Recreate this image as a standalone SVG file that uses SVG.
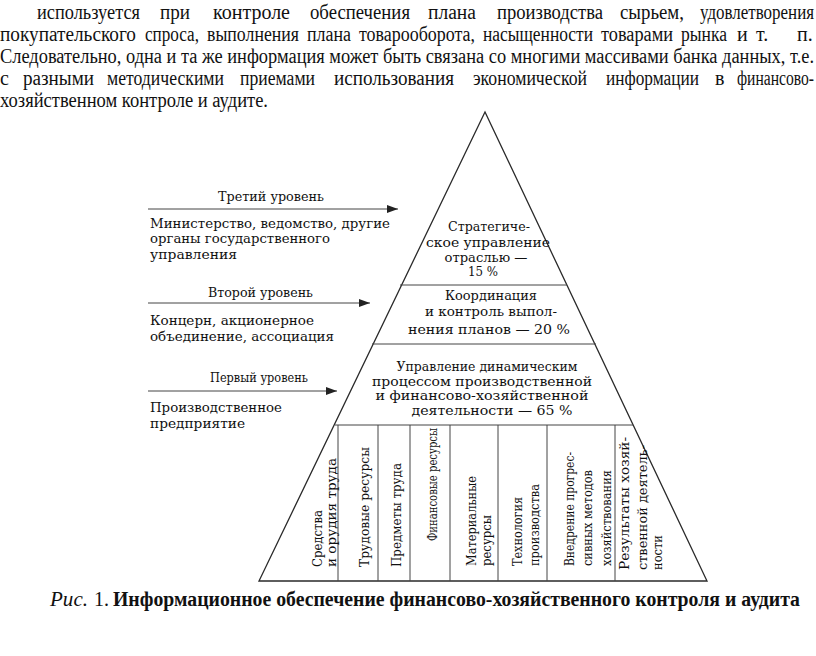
<svg xmlns="http://www.w3.org/2000/svg" width="816" height="656" viewBox="0 0 816 656">
<defs>
<style>
.p{font-family:"Liberation Serif","Times New Roman",serif;font-size:20px;fill:#111}
.t{font-family:"DejaVu Serif",serif;font-size:13px;fill:#111}
.c{text-anchor:middle}
.ln{stroke:#2a2a2a;stroke-width:1.3;fill:none}
.dv{stroke:#444;stroke-width:1;fill:none}
</style>
<marker id="ah" markerUnits="userSpaceOnUse" markerWidth="12" markerHeight="8" refX="11" refY="4" orient="auto">
<path d="M0,0 L11,4 L0,8 z" fill="#222"/>
</marker>
</defs>
<rect width="816" height="656" fill="#fff"/>

<g id="paragraph">
<text class="p" x="37" y="19" textLength="103" lengthAdjust="spacingAndGlyphs">используется</text>
<text class="p" x="160" y="19" textLength="30" lengthAdjust="spacingAndGlyphs">при</text>
<text class="p" x="213" y="19" textLength="77" lengthAdjust="spacingAndGlyphs">контроле</text>
<text class="p" x="310" y="19" textLength="100" lengthAdjust="spacingAndGlyphs">обеспечения</text>
<text class="p" x="428" y="19" textLength="48" lengthAdjust="spacingAndGlyphs">плана</text>
<text class="p" x="497" y="19" textLength="106" lengthAdjust="spacingAndGlyphs">производства</text>
<text class="p" x="620" y="19" textLength="64" lengthAdjust="spacingAndGlyphs">сырьем,</text>
<text class="p" x="700" y="19" textLength="114" lengthAdjust="spacingAndGlyphs">удовлетворения</text>

<text class="p" x="0" y="41" textLength="136" lengthAdjust="spacingAndGlyphs">покупательского</text>
<text class="p" x="145" y="41" textLength="54" lengthAdjust="spacingAndGlyphs">спроса,</text>
<text class="p" x="207" y="41" textLength="92" lengthAdjust="spacingAndGlyphs">выполнения</text>
<text class="p" x="307" y="41" textLength="44" lengthAdjust="spacingAndGlyphs">плана</text>
<text class="p" x="359" y="41" textLength="116" lengthAdjust="spacingAndGlyphs">товарооборота,</text>
<text class="p" x="483" y="41" textLength="110" lengthAdjust="spacingAndGlyphs">насыщенности</text>
<text class="p" x="601" y="41" textLength="72" lengthAdjust="spacingAndGlyphs">товарами</text>
<text class="p" x="681" y="41" textLength="46" lengthAdjust="spacingAndGlyphs">рынка</text>
<text class="p" x="737" y="41">и</text>
<text class="p" x="756" y="41">т.</text>
<text class="p" x="797" y="41">п.</text>

<text class="p" x="0" y="63" textLength="814" lengthAdjust="spacingAndGlyphs">Следовательно, одна и та же информация может быть связана со многими массивами банка данных, т.е.</text>

<text class="p" x="0" y="85">с</text>
<text class="p" x="23" y="85" textLength="71" lengthAdjust="spacingAndGlyphs">разными</text>
<text class="p" x="107" y="85" textLength="117" lengthAdjust="spacingAndGlyphs">методическими</text>
<text class="p" x="240" y="85" textLength="75" lengthAdjust="spacingAndGlyphs">приемами</text>
<text class="p" x="334" y="85" textLength="120" lengthAdjust="spacingAndGlyphs">использования</text>
<text class="p" x="473" y="85" textLength="114" lengthAdjust="spacingAndGlyphs">экономической</text>
<text class="p" x="606" y="85" textLength="93" lengthAdjust="spacingAndGlyphs">информации</text>
<text class="p" x="715" y="85">в</text>
<text class="p" x="737" y="85" textLength="77" lengthAdjust="spacingAndGlyphs">финансово-</text>

<text class="p" x="0" y="107" textLength="268" lengthAdjust="spacingAndGlyphs">хозяйственном контроле и аудите.</text>
</g>

<g id="pyramid">
<polygon class="ln" points="485,112 259,581 707,581"/>
<line class="dv" x1="400" y1="285" x2="567" y2="285"/>
<line class="dv" x1="372" y1="344" x2="596" y2="344"/>
<line class="dv" x1="335" y1="425" x2="633" y2="425"/>
</g>

<g id="level-strategic">
<text class="t c" x="489" y="231" textLength="82" lengthAdjust="spacingAndGlyphs">Стратегиче-</text>
<text class="t c" x="488" y="247" textLength="124" lengthAdjust="spacingAndGlyphs">ское управление</text>
<text class="t c" x="486" y="262" textLength="83" lengthAdjust="spacingAndGlyphs">отраслью —</text>
<text class="t c" x="483" y="276" textLength="30" lengthAdjust="spacingAndGlyphs">15 %</text>
</g>

<g id="level-coordination">
<text class="t c" x="491" y="300" textLength="92" lengthAdjust="spacingAndGlyphs">Координация</text>
<text class="t c" x="491" y="316" textLength="132" lengthAdjust="spacingAndGlyphs">и контроль выпол-</text>
<text class="t c" x="489" y="334" textLength="162" lengthAdjust="spacingAndGlyphs">нения планов — 20 %</text>
</g>

<g id="level-operational">
<text class="t c" x="487" y="371" textLength="181" lengthAdjust="spacingAndGlyphs">Управление динамическим</text>
<text class="t c" x="482" y="386" textLength="220" lengthAdjust="spacingAndGlyphs">процессом производственной</text>
<text class="t c" x="482" y="400" textLength="213" lengthAdjust="spacingAndGlyphs">и финансово-хозяйственной</text>
<text class="t c" x="492" y="415" textLength="161" lengthAdjust="spacingAndGlyphs">деятельности — 65 %</text>
</g>

<g id="resources">
<g class="dv">
<line x1="338" y1="425" x2="338" y2="581"/>
<line x1="378" y1="425" x2="378" y2="581"/>
<line x1="410" y1="425" x2="410" y2="581"/>
<line x1="450" y1="425" x2="450" y2="581"/>
<line x1="498" y1="425" x2="498" y2="581"/>
<line x1="547" y1="425" x2="547" y2="581"/>
<line x1="615" y1="425" x2="615" y2="581"/>
</g>
<g id="col-1"><text class="t" transform="translate(322,567) rotate(-90)" textLength="57" lengthAdjust="spacingAndGlyphs">Средства</text><text class="t" transform="translate(335.5,567) rotate(-90)" textLength="109" lengthAdjust="spacingAndGlyphs">и орудия труда</text></g>
<g id="col-2"><text class="t" transform="translate(369,567) rotate(-90)" textLength="120" lengthAdjust="spacingAndGlyphs">Трудовые ресурсы</text></g>
<g id="col-3"><text class="t" transform="translate(401,567) rotate(-90)" textLength="104" lengthAdjust="spacingAndGlyphs">Предметы труда</text></g>
<g id="col-4"><text class="t" transform="translate(437,541) rotate(-90)" textLength="113" lengthAdjust="spacingAndGlyphs">Финансовые ресурсы</text></g>
<g id="col-5"><text class="t" transform="translate(476,566) rotate(-90)" textLength="90" lengthAdjust="spacingAndGlyphs">Материальные</text><text class="t" transform="translate(491,566) rotate(-90)" textLength="51" lengthAdjust="spacingAndGlyphs">ресурсы</text></g>
<g id="col-6"><text class="t" transform="translate(522,566) rotate(-90)" textLength="69" lengthAdjust="spacingAndGlyphs">Технология</text><text class="t" transform="translate(539,566) rotate(-90)" textLength="82" lengthAdjust="spacingAndGlyphs">производства</text></g>
<g id="col-7"><text class="t" transform="translate(574,566) rotate(-90)" textLength="114" lengthAdjust="spacingAndGlyphs">Внедрение прогрес-</text><text class="t" transform="translate(592,566) rotate(-90)" textLength="96" lengthAdjust="spacingAndGlyphs">сивных методов</text><text class="t" transform="translate(611,566) rotate(-90)" textLength="96" lengthAdjust="spacingAndGlyphs">хозяйствования</text></g>
<g id="col-8"><text class="t" transform="translate(629,570) rotate(-90)" textLength="133" lengthAdjust="spacingAndGlyphs">Результаты хозяй-</text><text class="t" transform="translate(647,570) rotate(-90)" textLength="125" lengthAdjust="spacingAndGlyphs">ственной деятель-</text><text class="t" transform="translate(662,570) rotate(-90)" textLength="35" lengthAdjust="spacingAndGlyphs">ности</text></g>
</g>

<g id="connectors">
<line class="dv" x1="148" y1="209" x2="398" y2="209" marker-end="url(#ah)"/>
<line class="dv" x1="148" y1="303" x2="370" y2="303" marker-end="url(#ah)"/>
<line class="dv" x1="148" y1="391" x2="337" y2="391" marker-end="url(#ah)"/>
</g>

<g id="label-level3">
<text class="t" x="218" y="201" textLength="106" lengthAdjust="spacingAndGlyphs">Третий уровень</text>
<text class="t" x="150" y="228" textLength="240" lengthAdjust="spacingAndGlyphs">Министерство, ведомство, другие</text>
<text class="t" x="150" y="243" textLength="180" lengthAdjust="spacingAndGlyphs">органы государственного</text>
<text class="t" x="150" y="259" textLength="87" lengthAdjust="spacingAndGlyphs">управления</text>
</g>
<g id="label-level2">
<text class="t" x="208" y="297" textLength="105" lengthAdjust="spacingAndGlyphs">Второй уровень</text>
<text class="t" x="150" y="325" textLength="164" lengthAdjust="spacingAndGlyphs">Концерн, акционерное</text>
<text class="t" x="150" y="341" textLength="184" lengthAdjust="spacingAndGlyphs">объединение, ассоциация</text>
</g>
<g id="label-level1">
<text class="t" x="210" y="382" textLength="98" lengthAdjust="spacingAndGlyphs">Первый уровень</text>
<text class="t" x="150" y="412" textLength="132" lengthAdjust="spacingAndGlyphs">Производственное</text>
<text class="t" x="150" y="428" textLength="95" lengthAdjust="spacingAndGlyphs">предприятие</text>
</g>

<g id="caption">
<text class="p" x="50" y="606" font-size="20" font-style="italic" textLength="38" lengthAdjust="spacingAndGlyphs">Рис.</text>
<text class="p" x="94" y="606" font-size="20">1.</text>
<text class="p" x="113" y="606" font-size="20" font-weight="bold" textLength="687" lengthAdjust="spacingAndGlyphs">Информационное обеспечение финансово-хозяйственного контроля и аудита</text>
</g>
</svg>
